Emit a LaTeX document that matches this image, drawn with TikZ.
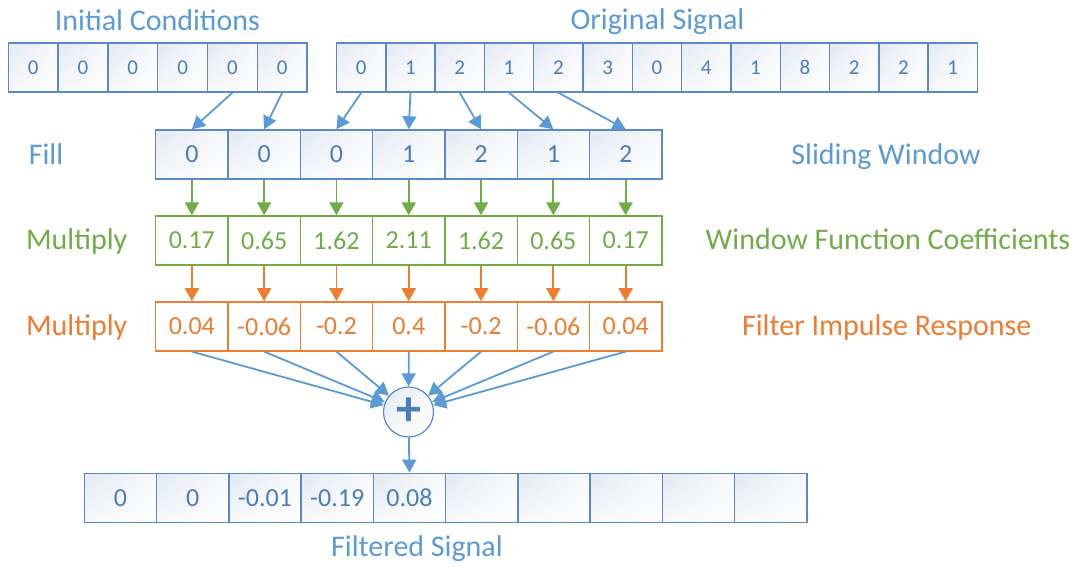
\documentclass[tikz,border=0pt]{standalone}
\usepackage{fontspec}
\setmainfont{Carlito}
\usetikzlibrary{arrows.meta,shadings}
\definecolor{lblue}{HTML}{5B9BD5}
\definecolor{tblue}{HTML}{4A7EBB}
\definecolor{bord}{HTML}{5A8AC6}
\definecolor{ablue}{HTML}{5B9BD5}
\definecolor{gcol}{HTML}{70AD47}
\definecolor{ocol}{HTML}{ED7D31}
\definecolor{gradc}{HTML}{E3E9F3}
\begin{document}
\begin{tikzpicture}[x=1pt,y=-1pt,
  gshade/.style={upper left=gradc, upper right=gradc!30!white, lower left=gradc!30!white, lower right=white},
  cellbase/.style={draw=bord, line width=1.4pt, inner sep=0pt, minimum height=49pt, text=tblue, gshade},
  cellsm/.style={cellbase, font=\fontsize{21}{24}\selectfont},
  cellbig/.style={cellbase, minimum width=72.3pt, font=\fontsize{26}{30}\selectfont},
  gcell/.style={draw=gcol, line width=1.4pt, fill=white, inner sep=0pt, minimum height=49pt,
    minimum width=72.3pt, text=gcol, font=\fontsize{26}{30}\selectfont},
  ocell/.style={gcell, draw=ocol, text=ocol},
  lab/.style={font=\fontsize{30}{36}\selectfont, anchor=base, inner sep=0pt},
  barrow/.style={draw=ablue, line width=1.8pt, -{Triangle[length=13pt,width=14pt]}},
  garrow/.style={barrow, draw=gcol},
  oarrow/.style={barrow, draw=ocol}]
\useasboundingbox (0,0) rectangle (1080,569);

% labels
\node[lab, text=lblue] (lic) at (157.5,31) {Initial Conditions};
\node[lab, text=lblue] (los) at (657.5,29.5) {Original Signal};
\node[lab, text=lblue] (lfill) at (46,164.3) {Fill};
\node[lab, text=lblue] (lsw) at (886,164.3) {Sliding Window};
\node[lab, text=gcol] (lm1) at (76.7,250) {Multiply};
\node[lab, text=gcol] (lwf) at (888,250) {Window Function Coefficients};
\node[lab, text=ocol] (lm2) at (76.7,335.5) {Multiply};
\node[lab, text=ocol] (lfi) at (886.7,335.5) {Filter Impulse Response};
\node[lab, text=lblue] (lfs) at (417,556.7) {Filtered Signal};

% initial conditions
\foreach \v [count=\i] in {0,0,0,0,0,0}
  \node[cellsm, minimum width=49.8pt] (ic\i) at ({8.3+49.8*(\i-0.5)},67.5) {\v};
% original signal
\foreach \v [count=\i] in {0,1,2,1,2,3,0,4,1,8,2,2,1}
  \node[cellsm, minimum width=49.3pt] (os\i) at ({336.5+49.3*(\i-0.5)},67.5) {\v};
% sliding window
\foreach \v [count=\i] in {0,0,0,1,2,1,2}
  \node[cellbig] (sw\i) at ({155.7+72.3*(\i-0.5)},154.5) {\v};
% window coefficients
\foreach \v [count=\i] in {0.17,0.65,1.62,2.11,1.62,0.65,0.17}
  \node[gcell] (wc\i) at ({155.7+72.3*(\i-0.5)},240.5) {\v};
% filter impulse response
\foreach \v [count=\i] in {0.04,-0.06,-0.2,0.4,-0.2,-0.06,0.04}
  \node[ocell] (fr\i) at ({155.7+72.3*(\i-0.5)},326.4) {\v};
% filtered signal
\foreach \v [count=\i] in {0,0,-0.01,-0.19,0.08}
  \node[cellbig, minimum width=72.25pt] (fs\i) at ({84.3+72.25*(\i-0.5)},497.8) {\v};
\foreach \i in {6,...,10}
  \node[cellbig, minimum width=72.25pt] (fs\i) at ({84.3+72.25*(\i-0.5)},497.8) {};

% sum
\node[circle, draw=bord, line width=1.2pt, minimum size=50pt, inner sep=0pt, gshade,
  text=tblue, font=\fontsize{50}{50}\selectfont\bfseries] (plus) at (408.5,412) {+};

% connectors
\foreach \a/\b in {ic5/sw1, ic6/sw2, os1/sw3, os2/sw4, os3/sw5, os4/sw6, os5/sw7}
  \draw[barrow] (\a.south) -- (\b.north);
\foreach \i in {1,...,7} {
  \draw[garrow] (sw\i.south) -- (wc\i.north);
  \draw[oarrow] (wc\i.south) -- (fr\i.north);
  \draw[barrow] (fr\i.south) -- (plus);
}
\draw[barrow] (plus) -- (fs5.north);
\end{tikzpicture}
\end{document}
